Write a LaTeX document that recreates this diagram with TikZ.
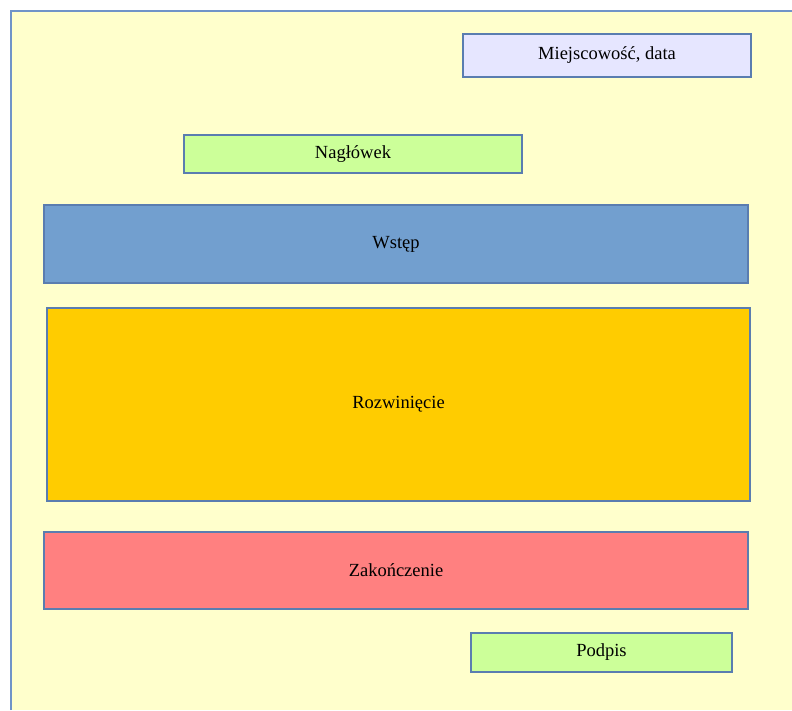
\documentclass[tikz,border=0pt]{standalone}
\usepackage{fontspec}
\setmainfont{Liberation Serif}
\definecolor{paper}{HTML}{FFFFCC}
\definecolor{edge}{HTML}{5A7DB0}
\definecolor{frame}{HTML}{7094C8}
\definecolor{lavender}{HTML}{E6E6FF}
\definecolor{lime}{HTML}{CCFF99}
\definecolor{sky}{HTML}{729FCF}
\definecolor{gold}{HTML}{FFCC00}
\definecolor{salmon}{HTML}{FF8080}
\begin{document}
\begin{tikzpicture}[x=1pt, y=-1pt, thick, part node/.style={draw=edge, line width=1.3pt, inner sep=0pt, font=\fontsize{18.5}{22}\selectfont}]
            \useasboundingbox (0,0) rectangle (792,710);
            \fill[paper] (11,11) rectangle (792,710);
            \draw[frame, line width=2.5pt] (11,710) -- (11,11) -- (792,11);
            \node[part node, fill=lavender, minimum width=288pt, minimum height=43pt] (miejsce) at (607,55.5) {Miejscowość, data};
            \node[part node, fill=lime, minimum width=338pt, minimum height=38pt] (naglowek) at (353,154) {Nagłówek};
            \node[part node, fill=sky, minimum width=704pt, minimum height=78pt] (wstep) at (396,244) {Wstęp};
            \node[part node, fill=gold, minimum width=703pt, minimum height=193pt] (rozwiniecie) at (398.5,404.5) {Rozwinięcie};
            \node[part node, fill=salmon, minimum width=704pt, minimum height=77pt] (zakonczenie) at (396,570.5) {Zakończenie};
            \node[part node, fill=lime, minimum width=261pt, minimum height=39pt] (podpis) at (601.5,652.5) {Podpis};
        \end{tikzpicture}
\end{document}
